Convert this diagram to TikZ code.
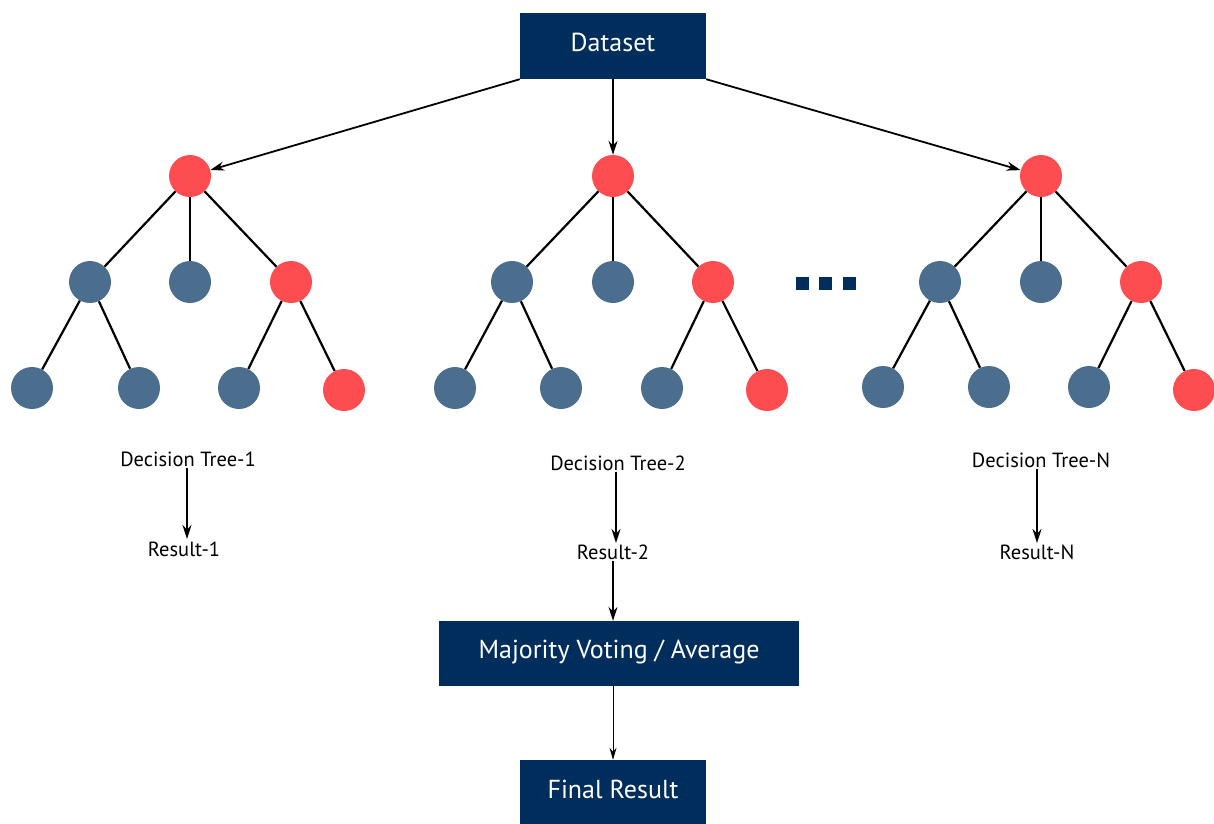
\documentclass[tikz,border=0pt]{standalone}
\usepackage{fontspec}
\setmainfont{PT Sans}
\usetikzlibrary{arrows.meta}
\definecolor{navy}{RGB}{0,46,92}
\definecolor{redn}{RGB}{253,77,80}
\definecolor{bluen}{RGB}{76,110,142}
\tikzset{
  rn/.style={circle,fill=redn,minimum size=42pt,inner sep=0pt},
  bn/.style={circle,fill=bluen,minimum size=42pt,inner sep=0pt},
  edge/.style={draw=black,line width=2.2pt},
  arr/.style={draw=black,line width=1.8pt,-{Stealth[length=14pt,width=9pt]}},
  thinarr/.style={draw=black,line width=1pt,-{Stealth[length=12pt,width=7pt]}},
  box/.style={fill=navy,text=white,font=\fontsize{26pt}{30pt}\selectfont,text height=1em,text depth=0pt,inner sep=0pt},
  lbl/.style={font=\fontsize{20.5pt}{24pt}\selectfont,text height=0.7em,text depth=0pt,inner sep=1.5pt},
  sq/.style={fill=navy,minimum size=13pt,inner sep=0pt}
}
\begin{document}
\begin{tikzpicture}[x=1pt,y=-1pt]
\useasboundingbox (0,0) rectangle (1214,823);
% Dataset
\node[box,minimum width=186pt,minimum height=66pt] (ds) at (613,46) {Dataset};
% Tree 1
\node[rn] (a0) at (190,176) {};
\node[bn] (a1) at (90,282) {};
\node[bn] (a2) at (190,282) {};
\node[rn] (a3) at (291,282) {};
\node[bn] (a4) at (32,388) {};
\node[bn] (a5) at (139,388) {};
\node[bn] (a6) at (239,388) {};
\node[rn] (a7) at (344,390) {};
% Tree 2
\node[rn] (b0) at (613,176) {};
\node[bn] (b1) at (512,282) {};
\node[bn] (b2) at (613,282) {};
\node[rn] (b3) at (713,282) {};
\node[bn] (b4) at (455,388) {};
\node[bn] (b5) at (561,388) {};
\node[bn] (b6) at (662,388) {};
\node[rn] (b7) at (767,390) {};
% Tree N
\node[rn] (c0) at (1041,176) {};
\node[bn] (c1) at (940,282) {};
\node[bn] (c2) at (1041,282) {};
\node[rn] (c3) at (1141,282) {};
\node[bn] (c4) at (883,387) {};
\node[bn] (c5) at (989,387) {};
\node[bn] (c6) at (1089,387) {};
\node[rn] (c7) at (1194,390) {};
% edges
\foreach \t in {a,b,c}{
  \draw[edge] (\t0) -- (\t1);
  \draw[edge] (\t0) -- (\t2);
  \draw[edge] (\t0) -- (\t3);
  \draw[edge] (\t1) -- (\t4);
  \draw[edge] (\t1) -- (\t5);
  \draw[edge] (\t3) -- (\t6);
  \draw[edge] (\t3) -- (\t7);
}
% dataset arrows
\draw[arr] (ds.south west) -- (a0);
\draw[arr] (ds.south) -- (b0);
\draw[arr] (ds.south east) -- (c0);
% dots
\node[sq] (d1) at (802,283) {};
\node[sq] (d2) at (825,283) {};
\node[sq] (d3) at (849,283) {};
% labels
\node[lbl,anchor=base] (dt1) at (188,466) {Decision Tree-1};
\node[lbl,anchor=base] (r1) at (184,556) {Result-1};
\node[lbl,anchor=base] (dt2) at (618,470) {Decision Tree-2};
\node[lbl,anchor=base] (r2) at (613,559) {Result-2};
\node[lbl,anchor=base] (dtn) at (1041,467) {Decision Tree-N};
\node[lbl,anchor=base] (rn) at (1037,559) {Result-N};
\draw[arr] (dt1.south -| 187,0) -- (187,539);
\draw[arr] (dt2.south -| 616,0) -- (616,543);
\draw[arr] (dtn.south -| 1037,0) -- (1037,543);
% majority and final
\node[box,minimum width=360pt,minimum height=65pt] (maj) at (619,653.5) {Majority Voting / Average};
\node[box,minimum width=186pt,minimum height=66pt] (fin) at (613,793) {Final Result};
\draw[arr] (r2.south) -- (r2.south |- maj.north);
\draw[thinarr] (maj.south -| fin.north) -- (fin.north);
\end{tikzpicture}
\end{document}
